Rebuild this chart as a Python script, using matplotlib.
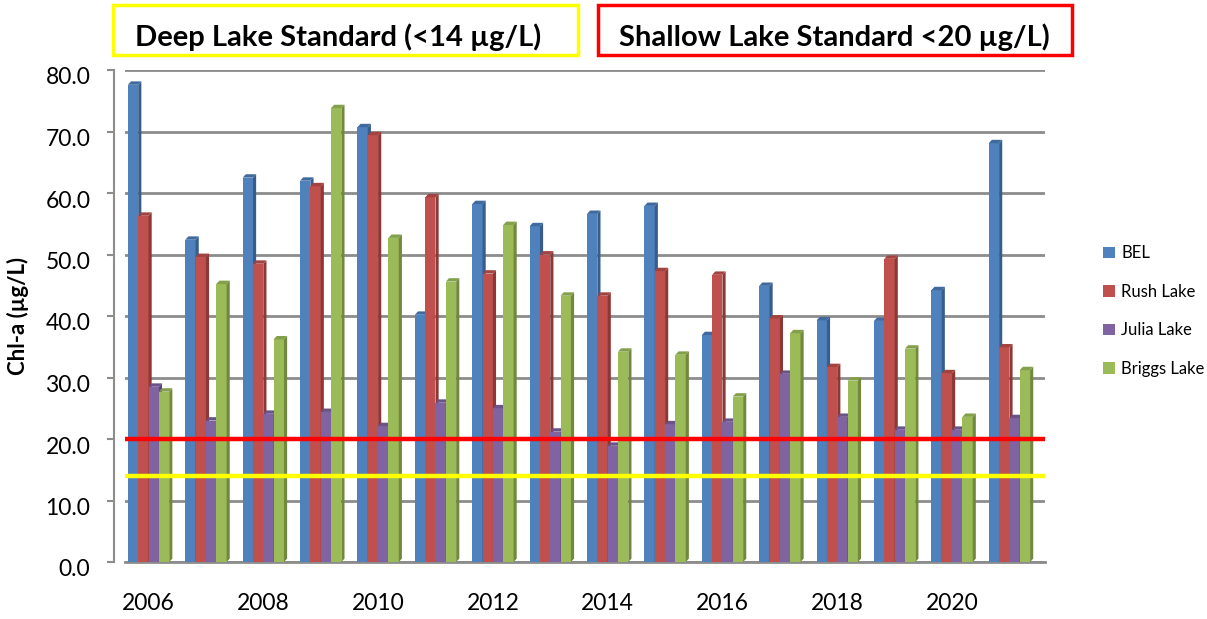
import matplotlib
matplotlib.use("Agg")
import matplotlib.pyplot as plt
from matplotlib.patches import Polygon, Rectangle
from matplotlib.transforms import ScaledTranslation
import numpy as np

plt.rcParams['font.family'] = ['Lato', 'DejaVu Sans']

years = list(range(2006, 2022))
bel = [77.6, 52.4, 62.5, 62.0, 70.7, 40.2, 58.2, 54.6, 56.6, 57.9, 36.9, 44.9, 39.3, 39.2, 44.2, 68.1]
rush = [56.3, 49.6, 48.5, 61.1, 69.4, 59.3, 46.9, 50.0, 43.3, 47.3, 46.7, 39.6, 31.7, 49.3, 30.7, 34.9]
julia = [28.5, 23.0, 24.1, 24.4, 22.1, 25.9, 25.0, 21.2, 18.9, 22.4, 22.8, 30.6, 23.6, 21.5, 21.5, 23.4]
briggs = [27.7, 45.2, 36.2, 73.8, 52.7, 45.6, 54.8, 43.3, 34.2, 33.7, 26.9, 37.2, 29.5, 34.7, 23.6, 31.2]

series = ['BEL', 'Rush Lake', 'Julia Lake', 'Briggs Lake']
values = [bel, rush, julia, briggs]
front = ['#4F81BD', '#C0504D', '#8064A2', '#9BBB59']
side = ['#385D8A', '#8C3836', '#5C4776', '#71893F']
top = ['#3F6AA0', '#A3423F', '#6B5389', '#82A04A']

deep_std = 14
shallow_std = 20

fig = plt.figure(figsize=(12.07, 6.19), dpi=100)
ax = fig.add_axes([125/1207, 57/619, 920/1207, 492/619])

w = 0.18
dx, dy = 0.055, 0.55

# bars drawn group by group so each front face hides the side of the one before
handles = []
for g, yr in enumerate(years):
    for i in range(4):
        x0 = yr + (i - 2) * w
        v = values[i][g]
        b = ax.bar(x0, v, width=w, align='edge', color=front[i], linewidth=0, zorder=3)
        if g == 0:
            handles.append(b)
        ax.add_patch(Polygon([(x0 + w, 0), (x0 + w + dx, dy), (x0 + w + dx, v + dy), (x0 + w, v)],
                             closed=True, color=side[i], lw=0, zorder=3))
        ax.add_patch(Polygon([(x0, v), (x0 + dx, v + dy), (x0 + w + dx, v + dy), (x0 + w, v)],
                             closed=True, color=top[i], lw=0, zorder=3))

# standards
ax.axhline(shallow_std, color='#FF0000', lw=3.2, zorder=4)
ax.axhline(deep_std, color='#FFFF00', lw=3.2, zorder=4)

for s in ['top', 'right']:
    ax.spines[s].set_visible(False)
ax.spines['left'].set_position(('outward', 8))
ax.spines['left'].set_color('#8c8c8c')
ax.spines['left'].set_linewidth(1.5)
ax.spines['bottom'].set_color('#8c8c8c')
ax.spines['bottom'].set_linewidth(2)

ax.set_xlim(2006 - 0.41, 2006 - 0.41 + 16.03)
ax.set_ylim(0, 80)
ax.set_yticks(np.arange(0, 81, 10))
ax.set_yticklabels([f'{t:.1f}' for t in np.arange(0, 81, 10)], fontsize=16.5)
ax.set_xticks(years[::2])
ax.set_xticklabels([str(y) for y in years[::2]], fontsize=16.5)
ax.tick_params(axis='x', length=0, pad=22)
ax.tick_params(axis='y', length=5, width=1.5, color='#8c8c8c', pad=12)
ax.grid(axis='y', color='#8c8c8c', lw=2, zorder=0)
ax.set_axisbelow(True)

# value labels sit on the front edge of the 3d wall, a few px below the grid
for lbl in ax.get_yticklabels():
    lbl.set_transform(lbl.get_transform() + ScaledTranslation(0, -0.06, fig.dpi_scale_trans))

ax.set_ylabel('Chl-a (µg/L)', fontsize=16, fontweight='bold', labelpad=12)

ax.legend(handles=handles, labels=series, loc='center left', bbox_to_anchor=(1088/1207, 308/619),
          bbox_transform=fig.transFigure, frameon=False, fontsize=12,
          handlelength=0.7, handleheight=0.7, handletextpad=0.4, labelspacing=1.35)

# header boxes
fig.add_artist(Rectangle((113/1207, 564/619), 465/1207, 50/619, transform=fig.transFigure,
                         fill=False, edgecolor='#FFFF00', lw=2.5))
fig.add_artist(Rectangle((598/1207, 564/619), 474/1207, 50/619, transform=fig.transFigure,
                         fill=False, edgecolor='#FF0000', lw=2.5))
fig.text(338/1207, 1 - 37/619, 'Deep Lake Standard (<14 µg/L)', fontsize=21, fontweight='bold',
         ha='center', va='center')
fig.text(834/1207, 1 - 37/619, 'Shallow Lake Standard <20 µg/L)', fontsize=21, fontweight='bold',
         ha='center', va='center')

fig.savefig('out.png', dpi=100)
